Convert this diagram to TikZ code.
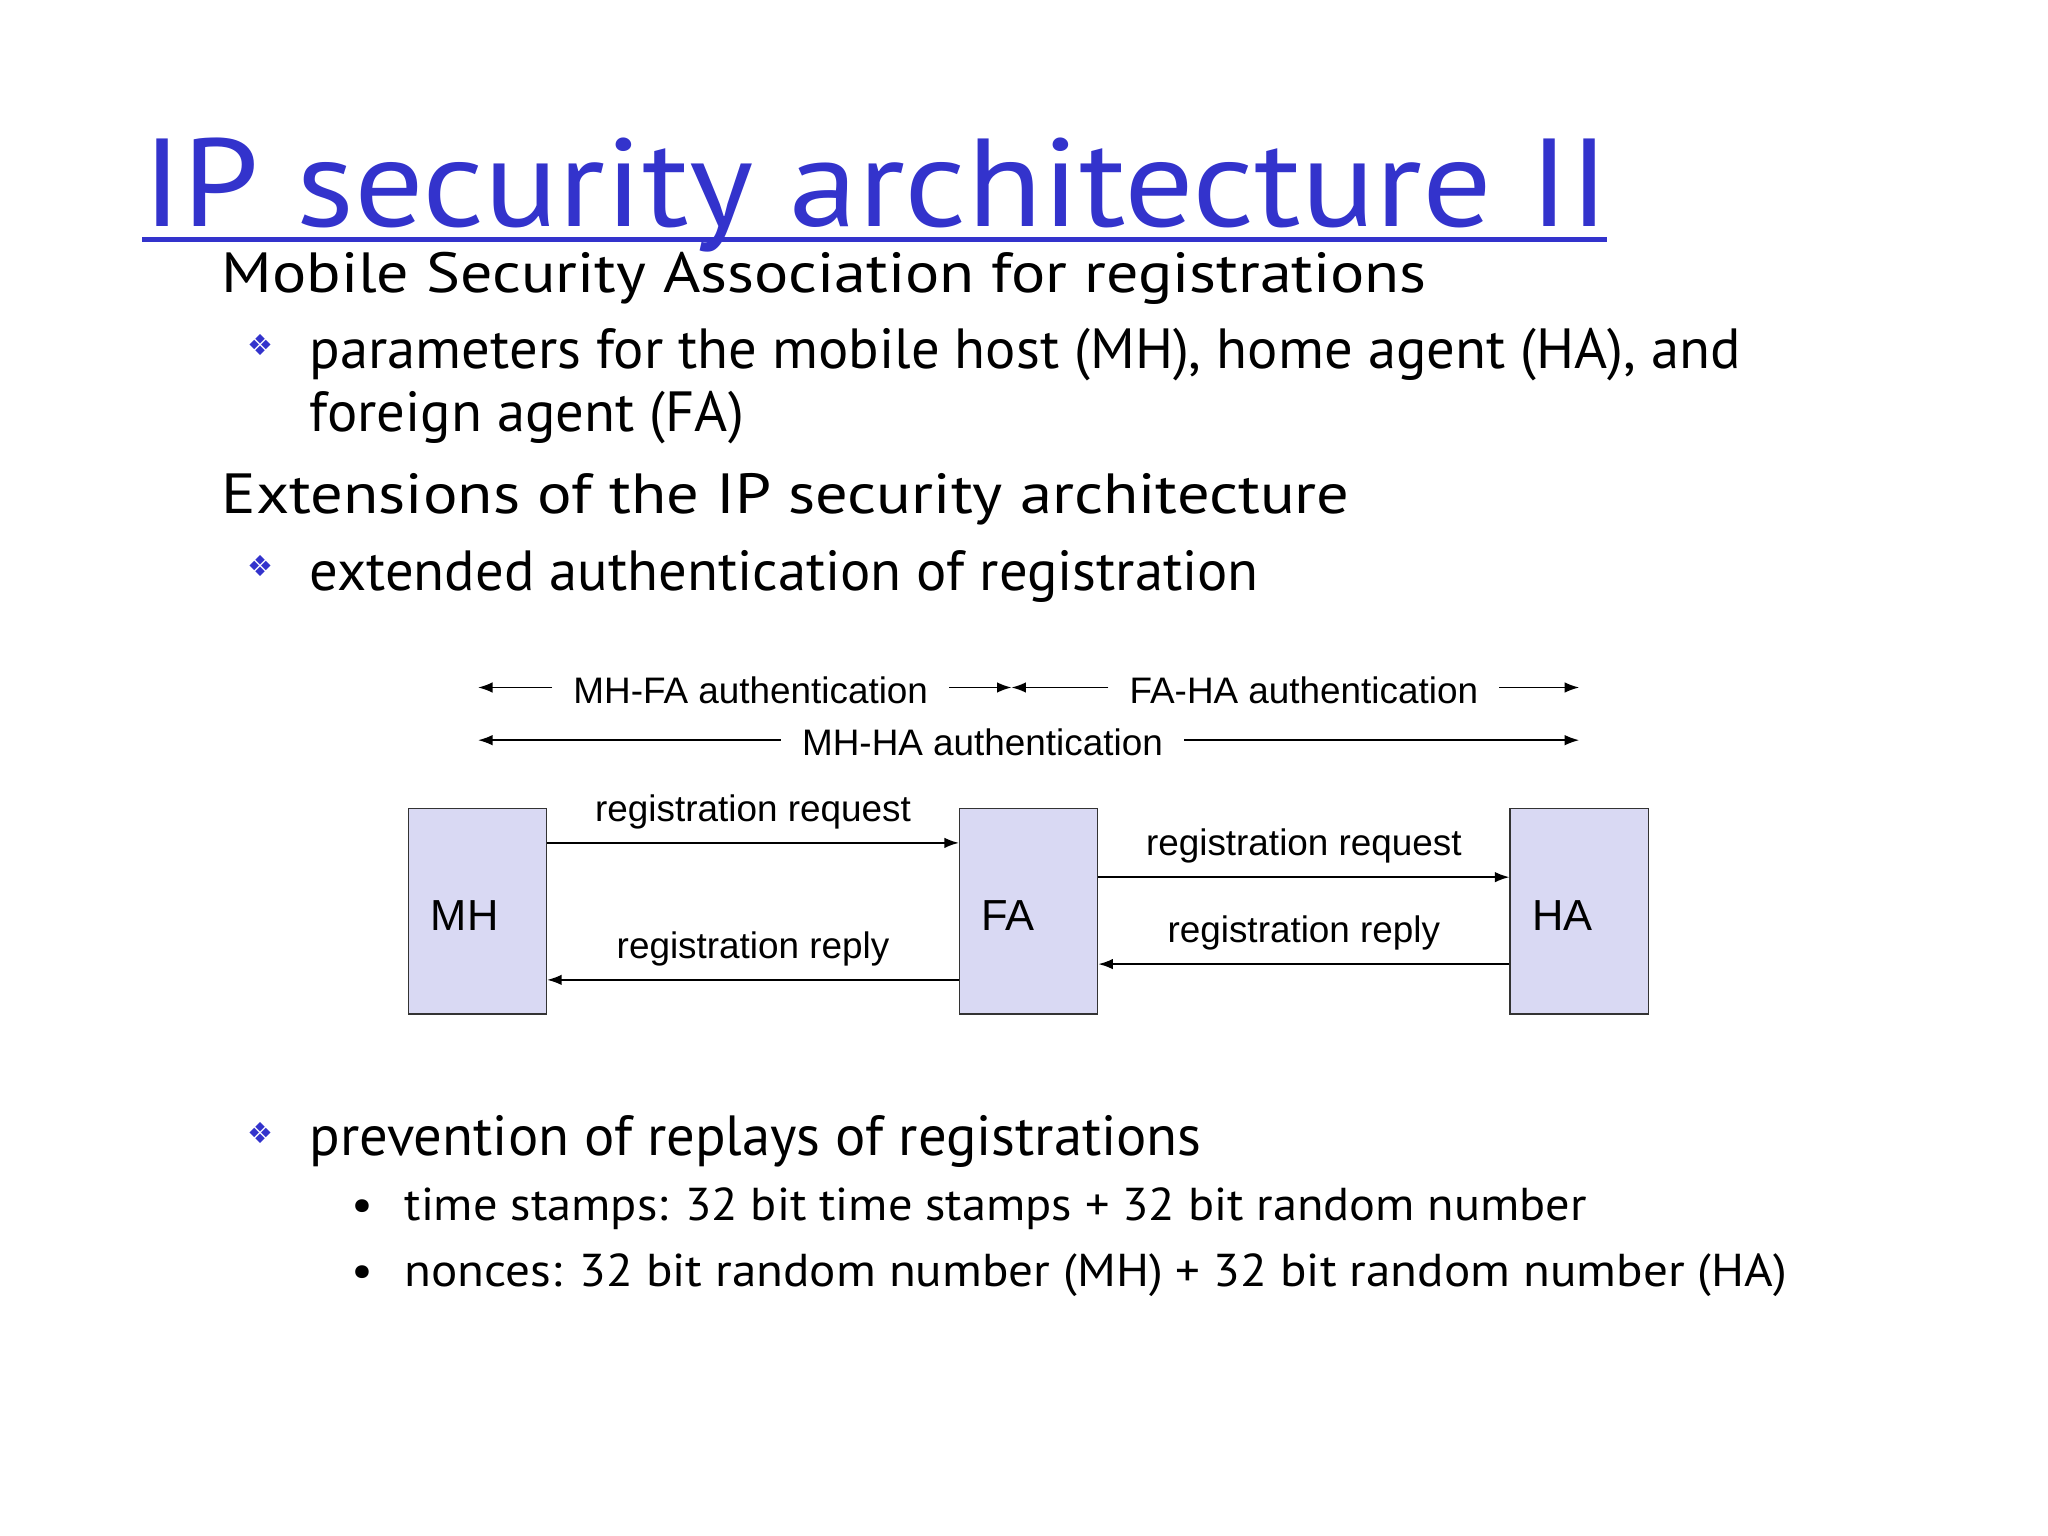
\documentclass[tikz,border=0pt]{standalone}
\usepackage{fontspec}
\setmainfont{PT Sans}
\newfontfamily\wa[FakeStretch=1.13]{PT Sans}
\newfontfamily\wb[FakeStretch=1.14]{PT Sans}
\newfontfamily\wtitle[FakeStretch=1.1]{PT Sans}
\newfontfamily\wsub[FakeStretch=1.05]{PT Sans}
\newfontfamily\wsubb[FakeStretch=1.065]{PT Sans}
\newfontfamily\arial{Liberation Sans}
\newfontfamily\dv{DejaVu Sans}
\usetikzlibrary{arrows.meta}
\definecolor{ttl}{HTML}{3333CC}
\definecolor{boxf}{HTML}{D9D9F3}
\begin{document}
\begin{tikzpicture}[x=1pt,y=-1pt,
  txt/.style={anchor=base west,inner sep=0pt,font=\fontsize{43}{50}\selectfont},
  sub/.style={anchor=base west,inner sep=0pt,font=\wsub\fontsize{35}{42}\selectfont},
  bul/.style={anchor=base west,inner sep=0pt,text=ttl,font=\dv\fontsize{22}{24}\selectfont},
  dtxt/.style={inner sep=0pt,font=\arial\fontsize{28}{32}\selectfont},
  ent/.style={draw=black!80,fill=boxf,minimum width=105pt,minimum height=156pt,inner sep=0pt,line width=1pt},
  arr/.style={-{Latex[length=11pt,width=8pt]},line width=1.2pt}]
\useasboundingbox (0,0) rectangle (1555,1166);
\node[anchor=base west,inner sep=0pt,text=ttl,font=\wtitle\fontsize{95}{100}\selectfont] (title) at (108,172) {IP security architecture II};
\draw[ttl,line width=4pt] (108,182) -- (1220,182);
\node[txt,font=\wa\fontsize{43}{50}\selectfont] (l1) at (168,222) {Mobile Security Association for registrations};
\node[bul] (b1) at (188,270) {❖};
\node[txt] (l2) at (235,280) {parameters for the mobile host (MH), home agent (HA), and};
\node[txt] (l3) at (235,328) {foreign agent (FA)};
\node[txt,font=\wb\fontsize{43}{50}\selectfont] (l4) at (168,390) {Extensions of the IP security architecture};
\node[bul] (b2) at (188,438) {❖};
\node[txt] (l5) at (235,448) {extended authentication of registration};
\begin{scope}[shift={(-3,-5)}]
\node[dtxt] (t1) at (573,529) {MH-FA authentication};
\node[dtxt] (t2) at (993,529) {FA-HA authentication};
\node[dtxt] (t3) at (749,569) {MH-HA authentication};
\coordinate (a1) at (366,527); \coordinate (a2) at (771,527); \coordinate (a3) at (1202,527);
\coordinate (c1) at (366,567); \coordinate (c3) at (1202,567);
\draw[arr] ([xshift=-16pt]t1.west|-a1) -- (a1);
\draw[arr] ([xshift=16pt]t1.east|-a1) -- (a2);
\draw[arr] ([xshift=-16pt]t2.west|-a1) -- (a2);
\draw[arr] ([xshift=16pt]t2.east|-a1) -- (a3);
\draw[arr] ([xshift=-16pt]t3.west|-c1) -- (c1);
\draw[arr] ([xshift=16pt]t3.east|-c1) -- (c3);
\node[ent] (mh) at (365.5,697) {};
\node[ent] (fa) at (784,697) {};
\node[ent] (ha) at (1202,697) {};
\node[dtxt,anchor=west] at (330,700) {\fontsize{33}{36}\selectfont MH};
\node[dtxt,anchor=west] at (748,700) {\fontsize{33}{36}\selectfont FA};
\node[dtxt,anchor=west] at (1166,700) {\fontsize{33}{36}\selectfont HA};
\draw[arr] (mh.east|-0,645) -- node[dtxt,above=10pt] {registration request} (fa.west|-0,645);
\draw[arr] (fa.west|-0,749) -- node[dtxt,above=10pt] {registration reply} (mh.east|-0,749);
\draw[arr] (fa.east|-0,671) -- node[dtxt,above=10pt] {registration request} (ha.west|-0,671);
\draw[arr] (ha.west|-0,737) -- node[dtxt,above=10pt] {registration reply} (fa.east|-0,737);
\end{scope}
\node[bul] (b3) at (188,868) {❖};
\node[txt] (l6) at (235,877) {prevention of replays of registrations};
\node[sub] (s1b) at (267,927) {•};
\node[sub] (s1) at (307,927) {time stamps: 32 bit time stamps + 32 bit random number};
\node[sub] (s2b) at (267,977) {•};
\node[sub,font=\wsubb\fontsize{35}{42}\selectfont] (s2) at (307,977) {nonces: 32 bit random number (MH) + 32 bit random number (HA)};
\end{tikzpicture}
\end{document}
